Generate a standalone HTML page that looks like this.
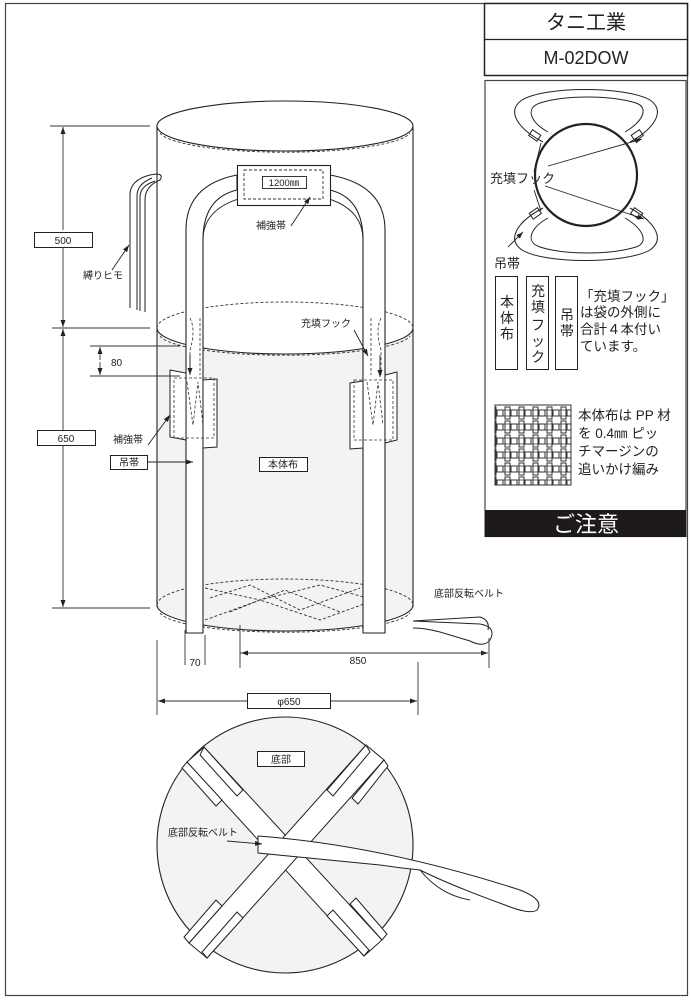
<!DOCTYPE html>
<html><head><meta charset="utf-8"><style>
body{margin:0;background:#fff}
svg{display:block}
text{font-family:"Liberation Sans","Noto Sans CJK JP",sans-serif;fill:#222}
</style></head><body>
<svg width="691" height="1000" viewBox="0 0 691 1000" xmlns="http://www.w3.org/2000/svg">
<defs>
<marker id="a" markerWidth="8" markerHeight="8" refX="7" refY="4" orient="auto" markerUnits="userSpaceOnUse"><path d="M0,1.5 L7,4 L0,6.5z" fill="#222"/></marker>
<pattern id="weave" width="14" height="14" patternUnits="userSpaceOnUse">
<rect width="14" height="14" fill="#fff"/>
<rect x="1" y="1" width="5" height="12" fill="none" stroke="#333" stroke-width="1"/>
<rect x="7" y="4" width="6" height="6" fill="none" stroke="#333" stroke-width="1"/>
<path d="M0,4 H14 M0,10 H14" stroke="#333" stroke-width="0.8"/>
</pattern>
</defs>
<rect x="5.5" y="3.5" width="682" height="992" fill="none" stroke="#444" stroke-width="1.2"/>

<rect x="484.5" y="3.5" width="203" height="72" fill="#fff" stroke="#222" stroke-width="1.5"/>
<line x1="484" y1="39.5" x2="688" y2="39.5" stroke="#222" stroke-width="1.2"/>
<text x="586" y="29" font-size="20" text-anchor="middle">タニ工業</text>
<text x="586" y="64" font-size="18" text-anchor="middle">M-02DOW</text>

<rect x="485" y="80.5" width="201" height="456" fill="#fff" stroke="#444" stroke-width="1.2"/>
<rect x="485" y="510" width="201" height="27" fill="#1e1a1a"/>
<text x="586" y="532" font-size="22" text-anchor="middle" style="fill:#fff">ご注意</text>
<g fill="none" stroke="#222" stroke-width="1">
<path d="M543,142 C520,130 505,112 522,100 C545,86 625,86 650,100 C667,112 652,130 630,142"/>
<path d="M548,132 C530,122 525,108 540,103 C565,95 610,95 636,103 C650,108 642,122 625,132"/>
<path d="M543,208 C520,220 505,238 522,250 C545,264 625,264 650,250 C667,238 652,220 630,208"/>
<path d="M548,218 C530,228 525,242 540,247 C565,255 610,255 636,247 C650,242 642,228 625,218"/>
<circle cx="586" cy="175" r="51" stroke-width="2.2"/>
<circle cx="586" cy="175" r="49" stroke="#fff" stroke-width="0.8"/>
<rect x="530" y="132" width="10" height="7" transform="rotate(35 535 135)"/>
<rect x="632" y="132" width="10" height="7" transform="rotate(-35 637 135)"/>
<rect x="530" y="210" width="10" height="7" transform="rotate(-35 535 213)"/>
<rect x="632" y="210" width="10" height="7" transform="rotate(35 637 213)"/>
</g>
<g stroke="#222" stroke-width="0.9" marker-end="url(#a)">
<line x1="548" y1="166" x2="642" y2="139"/>
<line x1="545" y1="186" x2="644" y2="219"/>
<line x1="508" y1="247" x2="523" y2="232"/>
</g>
<line x1="534" y1="172" x2="541" y2="143" stroke="#222" stroke-width="0.9"/>
<line x1="534" y1="190" x2="541" y2="211" stroke="#222" stroke-width="0.9"/>
<text x="490" y="183" font-size="13">充填フック</text>
<text x="494" y="268" font-size="13">吊帯</text>
<g fill="#fff" stroke="#222" stroke-width="1">
<rect x="495.5" y="276.5" width="22" height="93"/>
<rect x="526.5" y="276.5" width="22" height="93"/>
<rect x="555.5" y="276.5" width="22" height="93"/>
</g>
<g font-size="14" text-anchor="middle">
<text x="507" y="307">本</text><text x="507" y="323">体</text><text x="507" y="339">布</text>
<text x="538" y="296">充</text><text x="538" y="312">填</text><text x="538" y="330">フ</text><text x="538" y="346">ッ</text><text x="538" y="362">ク</text>
<text x="567" y="320">吊</text><text x="567" y="336">帯</text>
</g>
<g font-size="13.5">
<text x="580" y="301">「充填フック」</text>
<text x="580" y="317">は袋の外側に</text>
<text x="580" y="334">合計４本付い</text>
<text x="580" y="351">ています。</text>
<text x="578" y="420">本体布は PP 材</text>
<text x="578" y="438">を 0.4㎜ ピッ</text>
<text x="578" y="456">チマージンの</text>
<text x="578" y="474">追いかけ編み</text>
</g>
<rect x="495" y="405" width="76" height="80" fill="url(#weave)" stroke="#333" stroke-width="1"/>

<path d="M157,328 L157,605 A128,26 0 0 0 413,605 L413,328 A128,26 0 0 1 157,328z" fill="#f3f3f3"/>
<g fill="none" stroke="#222" stroke-width="1.1">
<line x1="157" y1="126" x2="157" y2="607"/>
<line x1="413" y1="126" x2="413" y2="607"/>
<ellipse cx="285" cy="126" rx="128" ry="25" fill="#fff"/>
<path d="M157,328 A128,26 0 0 0 413,328"/>
<path d="M157,605 A128,26 0 0 0 413,605"/>
</g>
<g fill="none" stroke="#333" stroke-width="0.9" stroke-dasharray="3,2">
<path d="M160,133 A126,22 0 0 0 410,133"/>
<path d="M157,328 A128,26 0 0 1 413,328"/>
<path d="M160,336 A126,22 0 0 0 410,336"/>
<path d="M157,605 A128,26 0 0 1 413,605"/>
<path d="M160,613 A126,22 0 0 0 410,613"/>
<path d="M205,588 L260,600 L320,585 L375,600 M205,620 L260,600 L320,620 L375,600 M210,598 L250,585 L300,610 L360,588 M230,612 L285,590 L340,612"/>
</g>
<g fill="#fff" stroke="#222" stroke-width="1.1">
<path d="M186,633 L186,230 Q186,185 237,175 L237,190 Q203,198 203,240 L203,633z"/>
<path d="M385,633 L385,230 Q385,185 330,175 L330,190 Q363,198 363,240 L363,633z"/>
</g>
<path d="M203,240 Q203,195 285,192 Q363,195 363,240" fill="none" stroke="#222" stroke-width="0.9"/>
<rect x="237.5" y="165.5" width="93" height="40" fill="#fff" stroke="#222" stroke-width="1.1"/>
<rect x="244" y="170" width="79" height="29" fill="none" stroke="#333" stroke-dasharray="3,2" stroke-width="0.9"/>
<rect x="262.5" y="176.5" width="44" height="12" fill="#fff" stroke="#222" stroke-width="0.9"/>
<text x="284" y="186" font-size="9.5" text-anchor="middle">1200㎜</text>
<line x1="291" y1="226" x2="310" y2="197" stroke="#222" stroke-width="0.9" marker-end="url(#a)"/>
<text x="256" y="229" font-size="10">補強帯</text>
<g fill="#fff" stroke="#222" stroke-width="1">
<polygon points="170,370 186,373 186,440 170,437"/>
<polygon points="203,380 217,379 217,447 203,448"/>
<polygon points="350,383 363,381 363,448 350,449"/>
<polygon points="385,375 397,372 397,440 385,443"/>
</g>
<g fill="none" stroke="#333" stroke-dasharray="3,2" stroke-width="0.8">
<rect x="174" y="378" width="40" height="60"/>
<rect x="354" y="380" width="39" height="60"/>
<path d="M187,382 L193,425 L198,382 L203,425 M367,382 L373,425 L378,382 L383,425"/>
<path d="M190,318 Q196,330 190,350 L190,375 M200,318 L200,375 M371,318 L371,375 M381,318 Q375,330 381,350 L381,375"/>
</g>
<line x1="190" y1="355" x2="190" y2="375" stroke="#222" stroke-width="0.9" marker-end="url(#a)"/>
<line x1="380" y1="355" x2="380" y2="377" stroke="#222" stroke-width="0.9" marker-end="url(#a)"/>
<line x1="354" y1="330" x2="368" y2="356" stroke="#222" stroke-width="0.9" marker-end="url(#a)"/>
<text x="301" y="327" font-size="10">充填フック</text>
<rect x="259.5" y="457.5" width="48" height="14" fill="#fff" stroke="#222" stroke-width="1"/>
<text x="283" y="468" font-size="10" text-anchor="middle">本体布</text>
<g fill="none" stroke="#222" stroke-width="1">
<path d="M130,308 L130,195 Q130,180 150,175 Q165,172 160,180 Q145,186 145,200 L145,312"/>
<path d="M137,310 L137,196 Q137,184 152,178"/>
<path d="M140,311 L140,197 Q140,186 155,181"/>
</g>
<line x1="112" y1="270" x2="129" y2="245" stroke="#222" stroke-width="0.9" marker-end="url(#a)"/>
<text x="83" y="279" font-size="10">縛りヒモ</text>
<line x1="148" y1="445" x2="170" y2="415" stroke="#222" stroke-width="0.9" marker-end="url(#a)"/>
<text x="113" y="443" font-size="10">補強帯</text>
<rect x="110.5" y="455.5" width="37" height="14" fill="#fff" stroke="#222" stroke-width="1"/>
<text x="129" y="466" font-size="10" text-anchor="middle">吊帯</text>
<line x1="148" y1="462" x2="193" y2="462" stroke="#222" stroke-width="0.9" marker-end="url(#a)"/>
<g stroke="#333" stroke-width="0.9" fill="none">
<line x1="50" y1="126" x2="150" y2="126"/>
<line x1="52" y1="328" x2="150" y2="328"/>
<line x1="52" y1="608" x2="150" y2="608"/>
<line x1="90" y1="346" x2="180" y2="346"/>
<line x1="90" y1="376" x2="180" y2="376"/>
</g>
<g stroke="#333" stroke-width="0.9" marker-end="url(#a)">
<line x1="63" y1="230" x2="63" y2="127"/>
<line x1="63" y1="248" x2="63" y2="327"/>
<line x1="63" y1="430" x2="63" y2="329"/>
<line x1="63" y1="445" x2="63" y2="607"/>
<line x1="100" y1="360" x2="100" y2="347"/>
<line x1="100" y1="362" x2="100" y2="375"/>
</g>
<rect x="34.5" y="232.5" width="58" height="15" fill="#fff" stroke="#222" stroke-width="1"/>
<text x="63" y="244" font-size="10" text-anchor="middle">500</text>
<rect x="37.5" y="430.5" width="58" height="15" fill="#fff" stroke="#222" stroke-width="1"/>
<text x="66" y="442" font-size="10" text-anchor="middle">650</text>
<text x="111" y="366" font-size="10">80</text>
<path d="M413,621 L480,624 Q497,627 490,640 Q484,648 470,641 L440,632 Q425,628 413,628" fill="#fff" stroke="#222" stroke-width="1"/>
<path d="M413,621 L480,617 Q490,620 488,630" fill="none" stroke="#222" stroke-width="1"/>
<text x="434" y="597" font-size="10">底部反転ベルト</text>
<g stroke="#333" stroke-width="0.9">
<line x1="185" y1="630" x2="185" y2="665"/>
<line x1="205" y1="635" x2="205" y2="665"/>
<line x1="240" y1="625" x2="240" y2="668"/>
<line x1="489" y1="638" x2="489" y2="668"/>
<line x1="157" y1="640" x2="157" y2="715"/>
<line x1="418" y1="662" x2="418" y2="715"/>
</g>
<line x1="240" y1="653" x2="488" y2="653" stroke="#333" stroke-width="0.9" marker-end="url(#a)"/>
<line x1="488" y1="653" x2="241" y2="653" stroke="#333" stroke-width="0.9" marker-end="url(#a)"/>
<text x="195" y="666" font-size="10" text-anchor="middle">70</text>
<text x="358" y="664" font-size="10" text-anchor="middle">850</text>
<line x1="247" y1="701" x2="158" y2="701" stroke="#333" stroke-width="0.9" marker-end="url(#a)"/>
<line x1="330" y1="701" x2="417" y2="701" stroke="#333" stroke-width="0.9" marker-end="url(#a)"/>
<rect x="247.5" y="693.5" width="83" height="15" fill="#fff" stroke="#222" stroke-width="1"/>
<text x="289" y="705" font-size="10" text-anchor="middle">φ650</text>

<circle cx="285" cy="845" r="128" fill="#f3f3f3" stroke="#222" stroke-width="1.1"/>
<g fill="#fff" stroke="#222" stroke-width="1">
<polygon points="187,762 204,747 382,940 364,956"/>
<polygon points="366,745 384,760 207,958 189,943"/>
</g>
<g fill="#fff" stroke="#222" stroke-width="1">
<polygon points="204,747 243,790 237,796 200,755"/>
<polygon points="187,762 222,800 216,806 182,768"/>
<polygon points="366,745 327,790 333,796 370,752"/>
<polygon points="384,760 352,798 358,804 388,766"/>
<polygon points="189,943 222,906 216,900 184,937"/>
<polygon points="207,958 243,918 237,912 202,952"/>
<polygon points="364,956 327,916 333,910 369,950"/>
<polygon points="382,940 350,904 356,898 387,934"/>
</g>
<path d="M258,836 Q380,845 520,890 Q545,900 537,910 Q530,915 505,905 Q450,885 420,870 Q400,868 380,865 L258,853z" fill="#fff" stroke="#222" stroke-width="1"/>
<path d="M420,870 Q440,895 470,900" fill="none" stroke="#222" stroke-width="1"/>
<rect x="257.5" y="751.5" width="47" height="15" fill="#fff" stroke="#222" stroke-width="1"/>
<text x="281" y="763" font-size="10" text-anchor="middle">底部</text>
<text x="168" y="836" font-size="10">底部反転ベルト</text>
<line x1="227" y1="841" x2="262" y2="844" stroke="#222" stroke-width="0.9" marker-end="url(#a)"/>
</svg>
</body></html>
